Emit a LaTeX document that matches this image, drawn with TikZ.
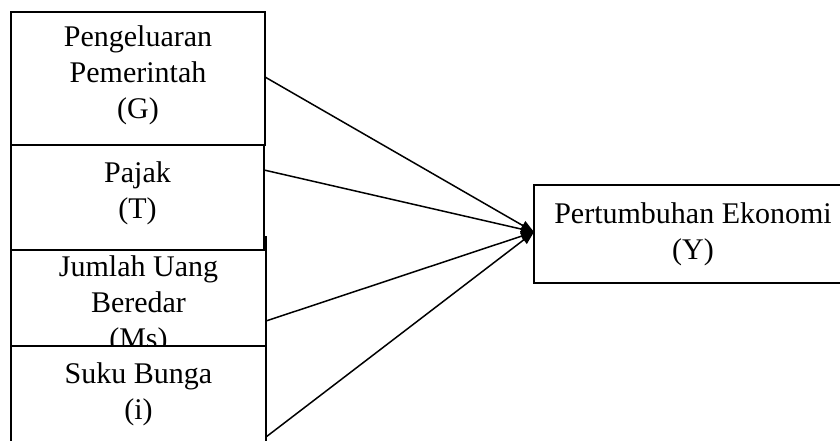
\documentclass[tikz,border=0pt]{standalone}
\usepackage{fontspec}
\setmainfont{Liberation Serif}
\usetikzlibrary{arrows.meta}
\begin{document}
\begin{tikzpicture}[x=1pt,y=-1pt,
  box/.style={draw, fill=white, line width=1.5pt, inner sep=0pt, outer sep=0pt, anchor=north west},
  txt/.style={anchor=base, inner sep=0pt, font=\fontsize{30}{36}\selectfont},
  arr/.style={line width=1.5pt, -{Triangle[length=13pt,width=10pt]}}]
\useasboundingbox (0,0) rectangle (840,441);
\clip (0,0) rectangle (840,441);
% box 1
\node[box, minimum width=254pt, minimum height=133pt] (g) at (11,12) {};
\node[txt] (g1) at (138,47) {Pengeluaran};
\node[txt] (g2) at (138,83) {Pemerintah};
\node[txt] (g3) at (138,119) {(G)};
% box 3
\node[box, minimum width=255pt, minimum height=110pt] (m) at (11,237) {};
\node[txt] (m1) at (138.5,276) {Jumlah Uang};
\node[txt] (m2) at (138.5,312) {Beredar};
\node[txt] (m3) at (138.5,348) {(Ms)};
% box 2
\node[box, minimum width=253pt, minimum height=105pt] (t) at (11,145) {};
\node[txt] (t1) at (137.5,182) {Pajak};
\node[txt] (t2) at (137.5,218) {(T)};
% box 4
\node[box, minimum width=255pt, minimum height=182pt] (i) at (11,346) {};
\node[txt] (i1) at (138.5,383) {Suku Bunga};
\node[txt] (i2) at (138.5,419) {(i)};
% box Y
\node[box, minimum width=366pt, minimum height=98pt] (y) at (534,185) {};
\node[txt] (y1) at (693,223) {Pertumbuhan Ekonomi};
\node[txt] (y2) at (693,259) {(Y)};
% connectors
\draw[arr] ([yshift=1.5pt]g.east) -- ([yshift=2pt]y.west);
\draw[arr] ([yshift=27.5pt]t.east) -- ([yshift=2pt]y.west);
\draw[arr] ([yshift=-29pt]m.east) -- ([yshift=2pt]y.west);
\draw[arr] (i.east) -- ([yshift=2pt]y.west);
\end{tikzpicture}
\end{document}
